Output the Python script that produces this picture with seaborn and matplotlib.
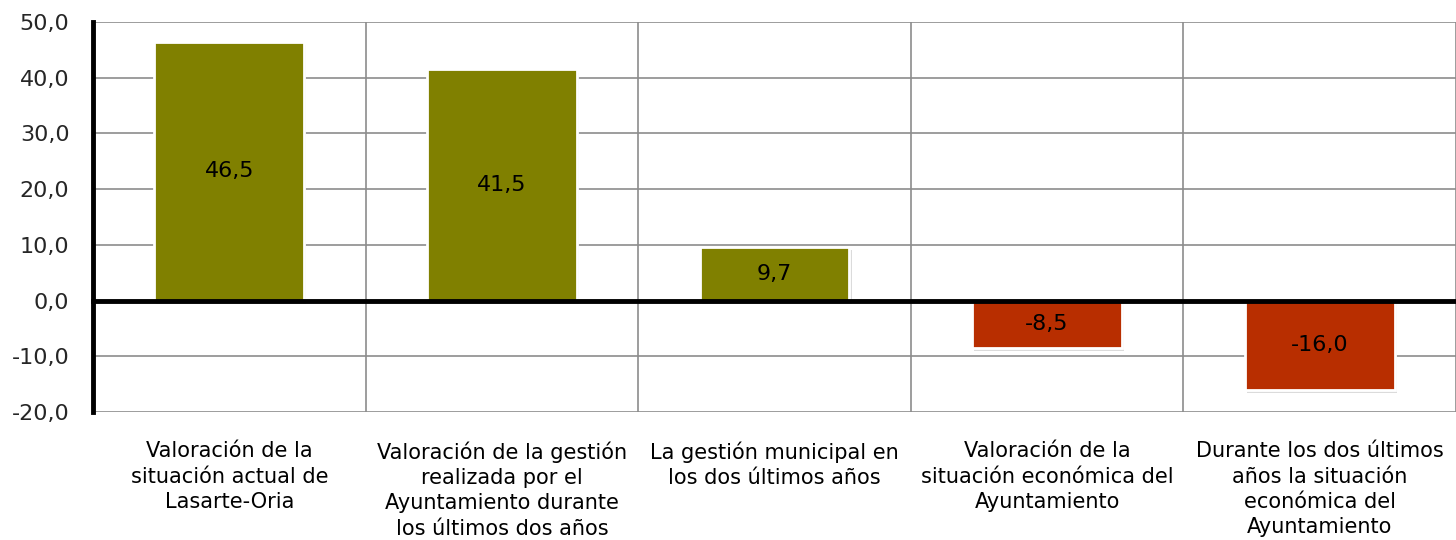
import matplotlib
matplotlib.use("Agg")
import matplotlib.pyplot as plt
import matplotlib.patheffects as pe
import matplotlib.transforms as mtransforms
import seaborn as sns
import pandas as pd

# values
categories = [
    "Valoración de la\nsituación actual de\nLasarte-Oria",
    "Valoración de la gestión\nrealizada por el\nAyuntamiento durante\nlos últimos dos años",
    "La gestión municipal en\nlos dos últimos años",
    "Valoración de la\nsituación económica del\nAyuntamiento",
    "Durante los dos últimos\naños la situación\neconómica del\nAyuntamiento",
]
values = [46.5, 41.5, 9.7, -8.5, -16.0]
yticks = [-20, -10, 0, 10, 20, 30, 40, 50]

pos_color = "#808000"
neg_color = "#B82E00"

df = pd.DataFrame({"cat": categories, "val": values})
colors = [pos_color if v >= 0 else neg_color for v in values]

sns.set_theme(style="white")
plt.rcParams["font.family"] = ["DejaVu Sans"]

fig = plt.figure(figsize=(14.56, 5.4), dpi=100)
ax = fig.add_axes([93 / 1456, 1 - 412 / 540, 1 - 93 / 1456, 390 / 540])

sns.barplot(data=df, x="cat", y="val", hue="cat", palette=colors, legend=False,
            width=0.55, edgecolor="white", linewidth=2, saturation=1, ax=ax, zorder=3)

for bar in ax.patches:
    bar.set_path_effects([pe.SimplePatchShadow(offset=(1.5, -2.5), shadow_rgbFace="#9a9a9a",
                                               alpha=0.35), pe.Normal()])

for cont in ax.containers:
    ax.bar_label(cont, labels=[f"{v:.1f}".replace(".", ",") for v in cont.datavalues],
                 label_type="center", fontsize=16, color="black")

n = len(categories)
ax.set_xlim(-0.5, n - 0.5)
ax.set_ylim(yticks[0], yticks[-1])
ax.set_yticks(yticks)
ax.set_yticklabels([f"{t:.1f}".replace(".", ",") for t in yticks], fontsize=16)
ax.set_xlabel("")
ax.set_ylabel("")

# horizontal and vertical grid
ax.set_xticks([i + 0.5 for i in range(n)], minor=True)
ax.set_xticks([])
ax.grid(axis="y", which="major", color="#8c8c8c", linewidth=1.2, zorder=0)
ax.grid(axis="x", which="minor", color="#8c8c8c", linewidth=1.2, zorder=0)
ax.set_axisbelow(True)

# axis line at zero
for s in ["top", "right"]:
    ax.spines[s].set_visible(False)
ax.spines["left"].set_color("black")
ax.spines["left"].set_linewidth(3.5)
ax.spines["bottom"].set_position(("data", 0))
ax.spines["bottom"].set_color("black")
ax.spines["bottom"].set_linewidth(3.5)
ax.spines["bottom"].set_zorder(5)
ax.tick_params(axis="y", which="major", direction="out", length=6, width=3, color="black", pad=11)
ax.tick_params(axis="x", which="minor", direction="out", length=5, width=3, color="black",
               labelbottom=False)

# category labels below the plot
trans = mtransforms.blended_transform_factory(ax.transData, ax.transAxes)
for i, c in enumerate(categories):
    ax.text(i, -0.075, c, transform=trans, ha="center", va="top", fontsize=15,
            linespacing=1.33, color="black")

fig.savefig("out.png", dpi=100)
